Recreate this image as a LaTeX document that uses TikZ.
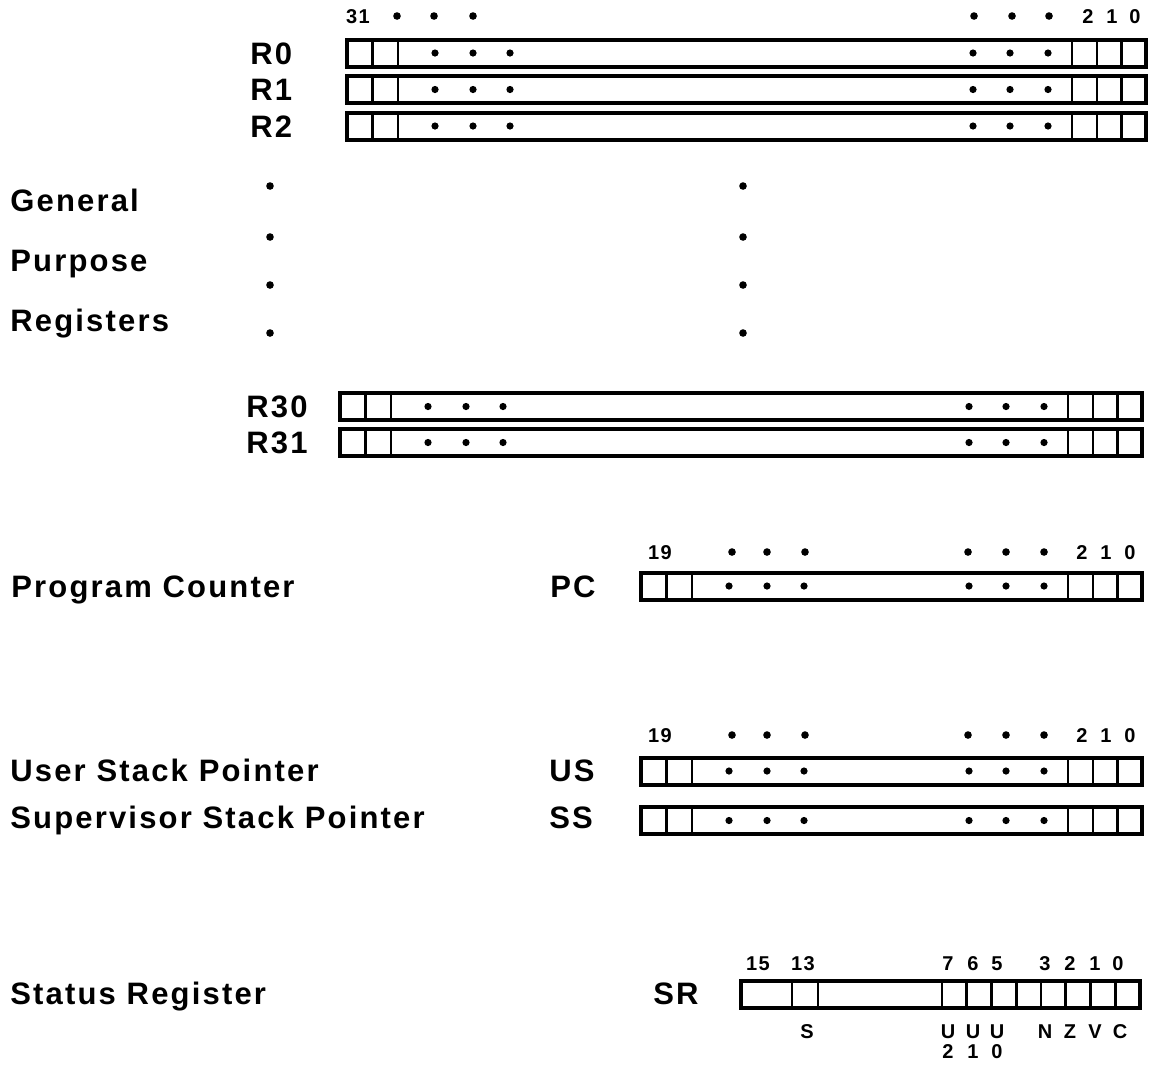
\documentclass[tikz,border=0pt]{standalone}
\usepackage{fontspec}
\setmainfont{Liberation Sans}[LetterSpace=7]
\usetikzlibrary{positioning}

% one register word: left edge, centre line, right edge
\newcommand{\regword}[3]{%
  \draw[regline] (#1,#2-13.5) rectangle (#3,#2+13.5);
  \foreach \dx in {25.5,51} \draw[cellline] (#1+\dx,#2-13.5) -- (#1+\dx,#2+13.5);
  \foreach \dx in {24.5,49,74} \draw[cellline] (#3-\dx,#2-13.5) -- (#3-\dx,#2+13.5);
  \foreach \dx in {88,126,163} \fill (#1+\dx,#2) circle (1.8pt);
  \foreach \dx in {98,136,173} \fill (#3-\dx,#2) circle (1.8pt);
}

\begin{document}
\begin{tikzpicture}[x=0.5pt,y=-0.5pt,
  every node/.style={font=\fontsize{15.5}{18}\selectfont\bfseries,inner sep=0pt},
  bitno/.style={font=\fontsize{10}{12}\selectfont\bfseries,text height=7.2pt,text depth=0pt},
  regline/.style={line width=2pt},
  cellline/.style={line width=1.4pt}]
\useasboundingbox (0,0) rectangle (1149,1073);

% general purpose registers
\node[bitno] (b31) at (358,16) {31};
\foreach \x in {397,434,473,974,1012,1049} \fill (\x,16) circle (1.9pt);
\foreach \x/\b in {1088/2,1112/1,1135/0} \node[bitno] (rb\b) at (\x,16) {\b};
\foreach \y/\n in {53/0,89.5/1,126/2} {
  \node[anchor=base west] (r\n) at (250,\y+11) {R\n};
  \regword{347}{\y}{1146}
}
\foreach \y in {186,237,285,333} {
  \fill (270,\y) circle (1.9pt);
  \fill (743,\y) circle (1.9pt);
}
\foreach \y/\n in {406.5/30,442.5/31} {
  \node[anchor=base west] (r\n) at (246,\y+11) {R\n};
  \regword{340}{\y}{1142}
}
\node[anchor=base west] (gen) at (10,211) {General};
\node[anchor=base west] (purp) at (10,271) {Purpose};
\node[anchor=base west] (regs) at (10,331) {Registers};

% program counter
\node[anchor=base west] (pcname) at (11,597) {Program Counter};
\node[anchor=base west] (pc) at (550,597) {PC};
\node[bitno] (pc19) at (660,552) {19};
\foreach \x in {732,767,805,968,1006,1044} \fill (\x,552) circle (1.9pt);
\foreach \x/\b in {1082/2,1106/1,1130/0} \node[bitno] (pcb\b) at (\x,552) {\b};
\regword{641}{586}{1142}

% stack pointers
\node[anchor=base west] (usname) at (10,781) {User Stack Pointer};
\node[anchor=base west] (ssname) at (10,828) {Supervisor Stack Pointer};
\node[anchor=base west] (us) at (549,781) {US};
\node[anchor=base west] (ss) at (549,828) {SS};
\node[bitno] (sp19) at (660,735) {19};
\foreach \x in {732,767,805,968,1006,1044} \fill (\x,735) circle (1.9pt);
\foreach \x/\b in {1082/2,1106/1,1130/0} \node[bitno] (spb\b) at (\x,735) {\b};
\regword{641}{771}{1142}
\regword{641}{820.5}{1142}

% status register
\node[anchor=base west] (srname) at (10,1004) {Status Register};
\node[anchor=base west] (sr) at (653,1004) {SR};
\draw[regline] (741,980.5) rectangle (1140,1007.5);
\foreach \x in {792,818,942,966.75,991.5,1016.25,1041,1065.75,1090.5,1115.25}
  \draw[cellline] (\x,980.5) -- (\x,1007.5);
\foreach \x/\b in {758/15,803/13,948/7,973/6,997/5,1045/3,1070/2,1095/1,1118/0}
  \node[bitno] (srb\b) at (\x,963) {\b};
\foreach \x/\f in {807/S,948/U,973/U,997/U,1045/N,1070/Z,1095/V,1120/C}
  \node[bitno] (fl\x) at (\x,1031) {\f};
\foreach \x/\b in {948/2,973/1,997/0} \node[bitno] (ub\b) at (\x,1051) {\b};
\end{tikzpicture}
\end{document}
